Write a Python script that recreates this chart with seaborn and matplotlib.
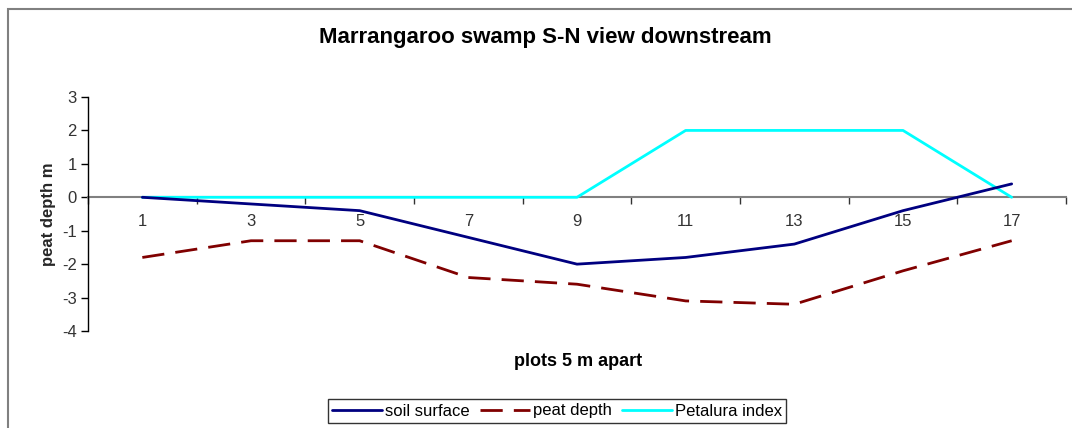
import numpy as np
import pandas as pd
import matplotlib
matplotlib.use("Agg")
import matplotlib.pyplot as plt
import seaborn as sns
from matplotlib.patches import Rectangle

sns.set_style("white")
plt.rcParams['font.family'] = ['Liberation Sans', 'DejaVu Sans']
plt.rcParams['axes.unicode_minus'] = False
plt.rcParams['text.color'] = 'black'

# plots (every second one is labelled on the category axis)
plots = ["1", "3", "5", "7", "9", "11", "13", "15", "17"]
soil_surface = [0.0, -0.2, -0.4, -1.2, -2.0, -1.8, -1.4, -0.4, 0.4]
peat_depth = [-1.8, -1.3, -1.3, -2.4, -2.6, -3.1, -3.2, -2.2, -1.3]
petalura_index = [0, 0, 0, 0, 0, 2, 2, 2, 0]

pos = np.arange(len(plots))
df = pd.DataFrame({"pos": pos, "soil": soil_surface, "peat": peat_depth, "petalura": petalura_index})

fig = plt.figure(figsize=(10.72, 4.28), dpi=100)
ax = fig.add_axes([88 / 1072, 1 - 331 / 428, (1066 - 88) / 1072, (331 - 97) / 428])

# chart frame
fig.patches.append(Rectangle((8 / 1072, -0.1), 1.2, 1 - 9 / 428 + 0.1, transform=fig.transFigure,
                             fill=False, edgecolor="#808080", linewidth=1.5, zorder=0))

sns.lineplot(data=df, x="pos", y="soil", ax=ax, color="#000080", linewidth=2, label="soil surface", zorder=3)
sns.lineplot(data=df, x="pos", y="peat", ax=ax, color="#800000", linewidth=2, label="peat depth", zorder=3)
ax.lines[-1].set_dashes([8, 4])
sns.lineplot(data=df, x="pos", y="petalura", ax=ax, color="#00FFFF", linewidth=2, label="Petalura index", zorder=2)

ax.set_xlim(-0.5, len(plots) - 0.5)
ax.set_ylim(-4, 3)
ax.set_yticks(range(-4, 4))
ax.set_xticks(pos)
ax.set_xticklabels(plots)
ax.set_xticks(np.arange(-0.5, len(plots)), minor=True)

# category axis crosses at zero
ax.spines["bottom"].set_position(("data", 0))
ax.spines["bottom"].set_color("#808080")
ax.spines["bottom"].set_linewidth(1.5)
ax.spines["bottom"].set_zorder(1)
for side in ["top", "right"]:
    ax.spines[side].set_visible(False)
ax.spines["left"].set_color("#000000")
ax.spines["left"].set_linewidth(1)

ax.tick_params(axis="y", direction="out", length=5, width=1, color="black", labelsize=12,
               labelcolor="#333333", pad=3, left=True)
ax.tick_params(axis="x", which="major", length=0, labelsize=12, labelcolor="#333333", pad=12)
ax.tick_params(axis="x", which="minor", direction="out", length=5, width=1, color="#333333", bottom=True)

ax.set_ylabel("peat depth m", fontsize=12, fontweight="bold", labelpad=4)
ax.set_xlabel("")
fig.text(578 / 1072, 1 - 362 / 428, "plots 5 m apart", ha="center", va="center", fontsize=13, fontweight="bold")
fig.text(545 / 1072, 1 - 38 / 428, "Marrangaroo swamp S-N view downstream", ha="center", va="center",
         fontsize=16, fontweight="bold")

ax.get_legend().remove()
leg = fig.legend(*ax.get_legend_handles_labels(), loc="center", bbox_to_anchor=(557 / 1072, 1 - 411 / 428),
                 ncol=3, frameon=True, fancybox=False, fontsize=12, handlelength=3.0, columnspacing=0.6,
                 handletextpad=0.2, borderpad=0.25, edgecolor="black")
leg.get_frame().set_linewidth(1)

fig.savefig("out.png", dpi=100)
